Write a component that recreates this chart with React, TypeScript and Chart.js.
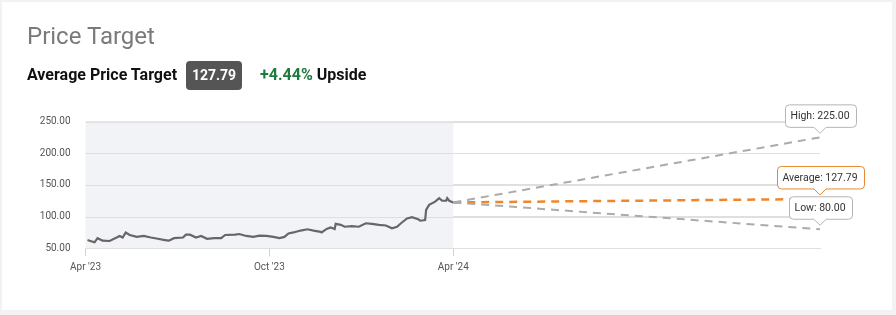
import React, { useEffect, useRef } from "react";
import { Chart, registerables } from "chart.js";

Chart.register(...registerables);

const priceDates = [
  "2023-04-03", "2023-04-05", "2023-04-10", "2023-04-13", "2023-04-18", "2023-04-25",
  "2023-05-02", "2023-05-05", "2023-05-08", "2023-05-11", "2023-05-15", "2023-05-22",
  "2023-05-29", "2023-06-05", "2023-06-12", "2023-06-19", "2023-06-23", "2023-06-28",
  "2023-07-07", "2023-07-10", "2023-07-14", "2023-07-20", "2023-07-25", "2023-07-31",
  "2023-08-07", "2023-08-14", "2023-08-18", "2023-08-28", "2023-09-01", "2023-09-08",
  "2023-09-15", "2023-09-21", "2023-09-28", "2023-10-05", "2023-10-11", "2023-10-16",
  "2023-10-20", "2023-10-25", "2023-11-01", "2023-11-08", "2023-11-14", "2023-11-21",
  "2023-11-22", "2023-11-27", "2023-12-01", "2023-12-05", "2023-12-06", "2023-12-11",
  "2023-12-15", "2023-12-22", "2023-12-29", "2024-01-05", "2024-01-11", "2024-01-18",
  "2024-01-25", "2024-01-31", "2024-02-05", "2024-02-09", "2024-02-15", "2024-02-20",
  "2024-02-26", "2024-02-28", "2024-03-04", "2024-03-05", "2024-03-08", "2024-03-14",
  "2024-03-18", "2024-03-21", "2024-03-25", "2024-03-26", "2024-03-28", "2024-04-01",
];
const priceValues = [
  63, 62, 59.5, 66, 62, 61.5,
  67, 69.5, 67, 75, 71, 68,
  69.5, 67, 65, 63, 62, 66,
  67, 71.5, 71.5, 67, 69.5, 65,
  66, 66, 71, 71.5, 72.5, 69.5,
  68, 70, 69.5, 68, 66, 68,
  73.5, 75, 78, 80, 78, 76,
  75, 80.5, 83, 80.5, 88.5, 87,
  84, 85, 84, 89.5, 88.5, 87,
  86, 81.5, 84, 89.5, 97, 99,
  96, 93.5, 94.5, 110.5, 118.5, 123.5,
  129, 125, 125, 129, 125, 122.36,
];

const currentPrice = 122.36;
const targetStart = "2024-04-01";
const targetEnd = "2025-04-01";
const targetHigh = 225.0;
const targetAverage = 127.79;
const targetLow = 80.0;
const upsidePct = "+4.44%";

const axisStart = "2023-04-01";
const axisEnd = "2025-04-01";
const tickDates = ["2023-04-01", "2023-10-01", "2024-04-01"];
const tickLabels = ["Apr '23", "Oct '23", "Apr '24"];
const yTicks = [50, 100, 150, 200, 250];

const ms = (d: string) => Date.parse(d + "T00:00:00Z");

export default function App() {
  const canvasRef = useRef<HTMLCanvasElement | null>(null);

  useEffect(() => {
    const canvas = canvasRef.current;
    if (!canvas) return;

    const shadePlugin = {
      id: "shade",
      beforeDatasetsDraw(chart: any) {
        const { ctx, chartArea, scales } = chart;
        const x0 = scales.x.getPixelForValue(ms(axisStart));
        const x1 = scales.x.getPixelForValue(ms(targetStart));
        ctx.save();
        ctx.fillStyle = "#f2f3f7";
        ctx.fillRect(x0, chartArea.top, x1 - x0, chartArea.bottom - chartArea.top);
        ctx.strokeStyle = "#dfdfdf";
        ctx.lineWidth = 1;
        yTicks.forEach((v) => {
          const y = Math.round(scales.y.getPixelForValue(v)) + 0.5;
          ctx.beginPath();
          ctx.moveTo(chartArea.left, y);
          ctx.lineTo(chartArea.right, y);
          ctx.stroke();
        });
        ctx.restore();
      },
    };

    const labelPlugin = {
      id: "targetLabels",
      afterDatasetsDraw(chart: any) {
        const { ctx, scales } = chart;
        const items = [
          { text: "High: " + targetHigh.toFixed(2), v: targetHigh, border: "#b5b5b5" },
          { text: "Average: " + targetAverage.toFixed(2), v: targetAverage, border: "#e8892f" },
          { text: "Low: " + targetLow.toFixed(2), v: targetLow, border: "#b5b5b5" },
        ];
        ctx.save();
        ctx.font = "10.5px Roboto";
        items.forEach((it) => {
          const px = scales.x.getPixelForValue(ms(targetEnd));
          const py = scales.y.getPixelForValue(it.v);
          const tw = ctx.measureText(it.text).width;
          const w = Math.round(tw + 12);
          const h = 23;
          const tipY = py - 4;
          const bottom = tipY - 6;
          const top = bottom - h;
          const left = Math.round(px - w / 2) + 0.5;
          const right = left + w;
          const r = 4;
          ctx.beginPath();
          ctx.moveTo(left + r, top + 0.5);
          ctx.lineTo(right - r, top + 0.5);
          ctx.quadraticCurveTo(right, top + 0.5, right, top + r);
          ctx.lineTo(right, bottom - r);
          ctx.quadraticCurveTo(right, bottom, right - r, bottom);
          ctx.lineTo(px + 6, bottom);
          ctx.lineTo(px, tipY);
          ctx.lineTo(px - 6, bottom);
          ctx.lineTo(left + r, bottom);
          ctx.quadraticCurveTo(left, bottom, left, bottom - r);
          ctx.lineTo(left, top + r);
          ctx.quadraticCurveTo(left, top + 0.5, left + r, top + 0.5);
          ctx.closePath();
          ctx.fillStyle = "#ffffff";
          ctx.fill();
          ctx.strokeStyle = it.border;
          ctx.lineWidth = 1;
          ctx.stroke();
          ctx.fillStyle = "#333333";
          ctx.textAlign = "center";
          ctx.textBaseline = "middle";
          ctx.fillText(it.text, px, top + h / 2 + 0.5);
        });
        ctx.restore();
      },
    };

    const projection = (end: number) => [
      { x: ms(targetStart), y: currentPrice },
      { x: ms(targetEnd), y: end },
    ];

    const chart = new Chart(canvas, {
      type: "line",
      data: {
        datasets: [
          {
            label: "High",
            data: projection(targetHigh),
            borderColor: "#ababab",
            borderWidth: 2,
            borderDash: [8, 6],
            pointRadius: 0,
            fill: false,
          },
          {
            label: "Low",
            data: projection(targetLow),
            borderColor: "#ababab",
            borderWidth: 2,
            borderDash: [8, 6],
            pointRadius: 0,
            fill: false,
          },
          {
            label: "Average",
            data: projection(targetAverage),
            borderColor: "#f0862a",
            borderWidth: 2.5,
            borderDash: [8, 6],
            pointRadius: 0,
            fill: false,
          },
          {
            label: "Price",
            data: priceDates.map((d, i) => ({ x: ms(d), y: priceValues[i] })),
            borderColor: "#666666",
            borderWidth: 2.2,
            pointRadius: 0,
            fill: false,
            tension: 0,
          },
        ],
      },
      options: {
        animation: false,
        responsive: false,
        maintainAspectRatio: false,
        events: [],
        layout: { padding: { top: 121.5, right: 76, bottom: 36.7, left: 0 } },
        plugins: {
          legend: { display: false },
          tooltip: { enabled: false },
          title: { display: false },
        },
        scales: {
          x: {
            type: "linear",
            min: ms(axisStart),
            max: ms(axisEnd),
            afterBuildTicks(scale: any) {
              scale.ticks = tickDates.map((d) => ({ value: ms(d) }));
            },
            afterFit(scale: any) {
              scale.height = 30;
            },
            ticks: {
              autoSkip: false,
              maxRotation: 0,
              padding: 5,
              color: "#555555",
              font: { family: "Roboto", size: 10 },
              callback(value: any) {
                const i = tickDates.findIndex((d) => ms(d) === value);
                return i >= 0 ? tickLabels[i] : "";
              },
            },
            grid: {
              display: true,
              drawOnChartArea: false,
              drawTicks: true,
              tickLength: 8,
              color: "#d0d0d0",
            },
            border: { display: true, color: "#dfdfdf" },
          },
          y: {
            min: 50,
            max: 250,
            afterBuildTicks(scale: any) {
              scale.ticks = yTicks.map((v) => ({ value: v }));
            },
            afterFit(scale: any) {
              scale.width = 85.5;
            },
            ticks: {
              padding: 15,
              color: "#555555",
              font: { family: "Roboto", size: 10 },
              callback(value: any) {
                return Number(value).toFixed(2);
              },
            },
            grid: { display: true, drawTicks: false, color: "#dfdfdf" },
            border: { display: false },
          },
        },
      },
      plugins: [shadePlugin, labelPlugin],
    } as any);

    return () => chart.destroy();
  }, []);

  const text: React.CSSProperties = { position: "absolute", fontFamily: "Roboto", whiteSpace: "nowrap" };

  return (
    <div style={{ position: "fixed", left: 0, top: 0, width: 896, height: 315, background: "#f3f2f2", overflow: "hidden" }}>
      <div style={{ position: "absolute", left: 2, top: 2, width: 890, height: 308, background: "#ffffff" }} />
      <canvas ref={canvasRef} width={896} height={315} style={{ position: "absolute", left: 0, top: 0, width: 896, height: 315 }} />
      <div style={{ ...text, left: 27, top: 24, fontSize: 24, lineHeight: "24px", color: "#7a7a7a" }}>Price Target</div>
      <div style={{ ...text, left: 27, top: 66, fontSize: 16, lineHeight: "18px", fontWeight: 700, color: "#111" }}>Average Price Target</div>
      <div style={{ position: "absolute", left: 186, top: 61, width: 56, height: 29, borderRadius: 4, background: "#555555", color: "#fff", fontFamily: "Roboto", fontWeight: 700, fontSize: 14, lineHeight: "29px", textAlign: "center" }}>{targetAverage.toFixed(2)}</div>
      <div style={{ ...text, left: 260, top: 66, fontSize: 16, lineHeight: "18px", fontWeight: 700, color: "#111" }}>
        <span style={{ color: "#1e7b3e" }}>{upsidePct}</span> Upside
      </div>
    </div>
  );
}
